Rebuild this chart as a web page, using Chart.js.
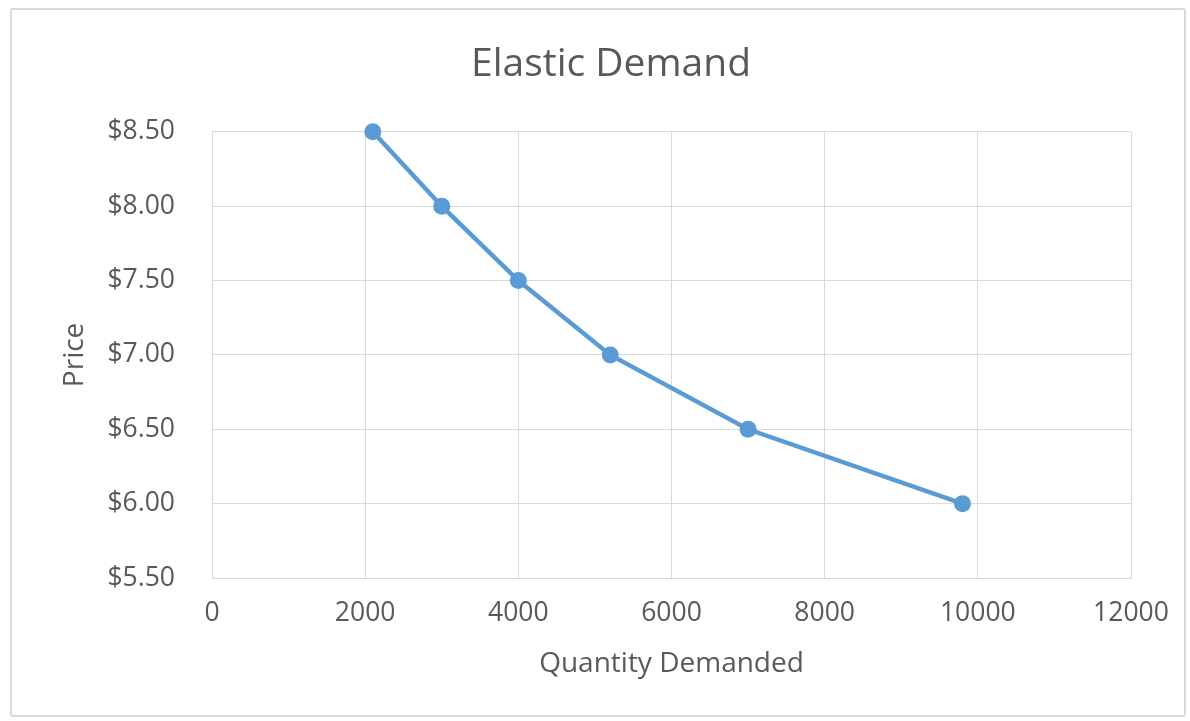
<!DOCTYPE html>
<html>
<head>
<meta charset="utf-8">
<script src="https://cdn.jsdelivr.net/npm/chart.js@4/dist/chart.umd.min.js"></script>
<style>
  html, body { margin: 0; padding: 0; background: #ffffff; overflow: hidden; }
  #frame {
    position: absolute; left: 10px; top: 8px; width: 1176px; height: 709px;
    border: 2px solid #d9d9d9; border-radius: 3px; box-sizing: border-box;
  }
  canvas { position: absolute; left: 0; top: 0; }
</style>
</head>
<body>
<div id="frame"></div>
<canvas id="chart" width="1190" height="721"></canvas>
<script>
// Demand schedule: quantity demanded at each price
const quantity = [2100, 3000, 4000, 5200, 7000, 9800];
const price = [8.50, 8.00, 7.50, 7.00, 6.50, 6.00];

const xTicks = [0, 2000, 4000, 6000, 8000, 10000, 12000];
const yTicks = [5.50, 6.00, 6.50, 7.00, 7.50, 8.00, 8.50];

const chartTitle = 'Elastic Demand';
const xTitle = 'Quantity Demanded';
const yTitle = 'Price';

const FONT = '"Open Sans", "Noto Sans", sans-serif';
const TEXT = '#595959';
const GRID = '#d9d9d9';
const BLUE = '#5b9bd5';

// plot-area edges inside the canvas
const PLOT_LEFT = 212, PLOT_BOTTOM = 578;
const PAD_LEFT = 91, PAD_RIGHT = 59, PAD_BOTTOM = 30;

const points = quantity.map((q, i) => ({ x: q, y: price[i] }));

new Chart(document.getElementById('chart'), {
  type: 'scatter',
  data: {
    datasets: [{
      data: points,
      showLine: true,
      borderColor: BLUE,
      backgroundColor: BLUE,
      borderWidth: 4.5,
      pointRadius: 8.5,
      pointHoverRadius: 8.5,
      pointBorderWidth: 0,
      clip: false
    }]
  },
  options: {
    responsive: false,
    animation: false,
    layout: { padding: { left: PAD_LEFT, right: PAD_RIGHT, top: 0, bottom: PAD_BOTTOM } },
    plugins: {
      legend: { display: false },
      tooltip: { enabled: false },
      title: {
        display: true,
        text: chartTitle,
        color: TEXT,
        font: { family: FONT, size: 39, weight: 'normal' },
        padding: { top: 41, bottom: 44 }
      }
    },
    scales: {
      x: {
        type: 'linear',
        min: xTicks[0],
        max: xTicks[xTicks.length - 1],
        afterBuildTicks: s => { s.ticks = xTicks.map(v => ({ value: v })); },
        afterFit: s => { s.height = 721 - PAD_BOTTOM - PLOT_BOTTOM; },
        grid: { color: GRID, lineWidth: 1, drawTicks: false },
        border: { color: GRID, width: 1 },
        ticks: {
          color: TEXT, padding: 20,
          font: { family: FONT, size: 26.5 },
          callback: v => String(v)
        },
        title: {
          display: true, text: xTitle, color: TEXT,
          font: { family: FONT, size: 28 },
          padding: { top: 0, bottom: 10 }
        }
      },
      y: {
        type: 'linear',
        min: yTicks[0],
        max: yTicks[yTicks.length - 1],
        afterBuildTicks: s => { s.ticks = yTicks.map(v => ({ value: v })); },
        afterFit: s => { s.width = PLOT_LEFT - PAD_LEFT; },
        grid: { color: GRID, lineWidth: 1, drawTicks: false },
        border: { color: GRID, width: 1 },
        ticks: {
          color: TEXT, padding: 37,
          font: { family: FONT, size: 26.5 },
          callback: v => '$' + Number(v).toFixed(2)
        },
        title: {
          display: true, text: yTitle, color: TEXT,
          font: { family: FONT, size: 28 },
          padding: { top: -33, bottom: 0 }
        }
      }
    }
  }
});
</script>
</body>
</html>
